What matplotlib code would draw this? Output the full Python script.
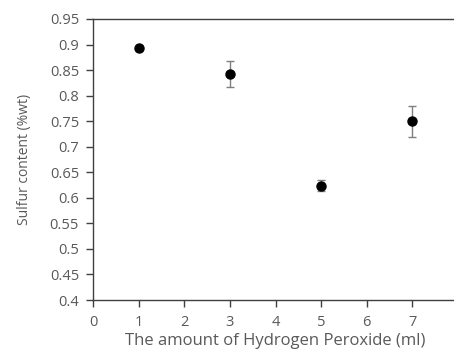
import matplotlib
matplotlib.use("Agg")
import matplotlib.pyplot as plt

# data
h2o2_ml = [1, 3, 5, 7]
sulfur = [0.893, 0.842, 0.624, 0.750]
sulfur_err = [0.004, 0.025, 0.011, 0.030]
x_ticks = [0, 1, 2, 3, 4, 5, 6, 7, 8]
x_labels = ["0", "1", "2", "3", "4", "5", "6", "7", ""]
y_ticks = [0.4, 0.45, 0.5, 0.55, 0.6, 0.65, 0.7, 0.75, 0.8, 0.85, 0.9, 0.95]
y_labels = ["0.4", "0.45", "0.5", "0.55", "0.6", "0.65", "0.7", "0.75", "0.8", "0.85", "0.9", "0.95"]

plt.rcParams['font.family'] = ['Open Sans', 'DejaVu Sans']
text_col = "#595959"

fig = plt.figure(figsize=(4.54, 3.54), dpi=100)
ax = fig.add_axes([93 / 454, 54 / 354, 365 / 454, 281 / 354])

ax.errorbar(h2o2_ml, sulfur, yerr=sulfur_err, fmt='o', color='black',
            markersize=6.5, ecolor='#7f7f7f', elinewidth=1, capsize=3, capthick=1)

ax.set_xlim(0, 8)
ax.set_ylim(0.4, 0.95)
ax.set_xticks(x_ticks)
ax.set_xticklabels(x_labels)
ax.set_yticks(y_ticks)
ax.set_yticklabels(y_labels)

for s in ['left', 'bottom', 'top']:
    ax.spines[s].set_color('#404040')
    ax.spines[s].set_linewidth(1)
ax.spines['right'].set_visible(False)

ax.tick_params(axis='y', direction='out', length=5, width=1, color='#404040',
               labelsize=10.5, labelcolor=text_col, pad=5)
ax.tick_params(axis='x', direction='out', length=5, width=1, color='#404040',
               labelsize=10.5, labelcolor=text_col, pad=6)

ax.set_xlabel("The amount of Hydrogen Peroxide (ml)", fontsize=12, color=text_col, labelpad=2)
ax.set_ylabel("Sulfur content (%wt)", fontsize=10, color=text_col, labelpad=13)

fig.savefig("out.png", dpi=100)
